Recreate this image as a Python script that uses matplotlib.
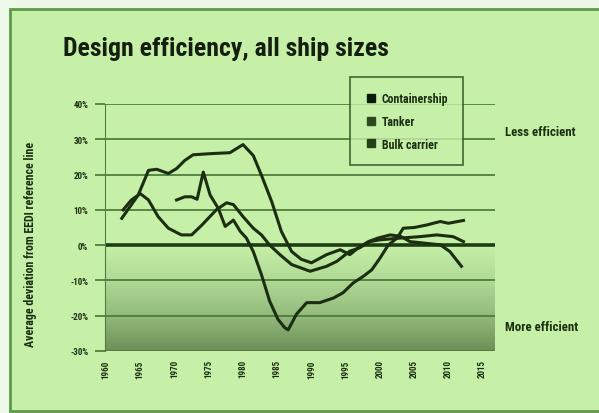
import numpy as np
import matplotlib
matplotlib.use("Agg")
import matplotlib.pyplot as plt
from matplotlib.lines import Line2D
from matplotlib.patches import Rectangle
from matplotlib.colors import LinearSegmentedColormap

# lecturas de la figura (año, % desviación)
years_cont = [1962.3, 1964.7, 1966.2, 1967.4, 1969.1, 1970.3, 1971.5, 1972.7, 1975.0,
              1978.1, 1980.0, 1981.5, 1982.7, 1984.2, 1985.6, 1987.1, 1988.5, 1990.0,
              1992.2, 1994.2, 1995.6, 1996.8, 1998.3, 1999.7, 2001.5, 2003.0, 2004.4,
              2006.8, 2008.8, 2010.2, 2011.9]
vals_cont = [7.6, 14.2, 21.2, 21.5, 20.3, 21.7, 24.0, 25.6, 25.9,
             26.2, 28.5, 25.4, 19.8, 12.3, 3.9, -1.8, -4.0, -5.0,
             -2.7, -1.3, -2.7, -0.8, 1.0, 2.0, 2.9, 2.5, 1.0,
             0.5, 0.1, -1.8, -6.0]

years_tank = [1962.5, 1963.7, 1965.0, 1966.2, 1967.6, 1969.1, 1971.0, 1972.5, 1974.0,
              1976.1, 1977.6, 1978.6, 1980.0, 1981.5, 1982.7, 1983.9, 1985.4, 1987.1,
              1989.8, 1992.2, 1993.7, 1995.6, 1997.0, 1998.5, 2000.0, 2002.9, 2005.8,
              2008.3, 2010.7, 2012.2]
vals_tank = [10.0, 12.8, 14.6, 12.8, 8.1, 4.8, 2.9, 2.9, 5.7,
             10.0, 12.0, 11.5, 8.1, 4.8, 2.9, 0.0, -2.7, -5.5,
             -7.4, -6.0, -4.6, -1.7, -0.8, 1.0, 1.5, 2.0, 2.4,
             2.9, 2.4, 1.0]

years_bulk = [1970.3, 1971.5, 1972.5, 1973.3, 1974.2, 1975.2, 1976.4, 1977.4, 1978.6,
              1979.6, 1980.5, 1981.5, 1982.7, 1983.9, 1985.1, 1986.1, 1986.6, 1987.8,
              1989.3, 1991.2, 1993.2, 1994.6, 1996.1, 1997.6, 1998.8, 2000.0, 2001.2,
              2002.5, 2003.4, 2005.0, 2006.8, 2008.8, 2010.0, 2012.2]
vals_bulk = [12.8, 13.7, 13.7, 13.0, 20.7, 14.2, 10.4, 5.3, 7.1,
             3.9, 2.0, -1.8, -8.4, -15.9, -21.0, -23.4, -24.0, -19.6,
             -16.3, -16.3, -15.0, -13.5, -10.7, -8.8, -7.0, -3.7, 0.0,
             2.0, 4.8, 5.0, 5.7, 6.7, 6.2, 7.0]

labels = ["Containership", "Tanker", "Bulk carrier"]
year_ticks = list(range(1960, 2016, 5))
pct_ticks = [-30, -20, -10, 0, 10, 20, 30, 40]

bg = "#c6f0a7"
dark = "#1b2e12"
grid = "#4f7d3c"
plt.rcParams["font.family"] = ["Roboto Condensed", "Roboto", "DejaVu Sans"]
plt.rcParams["font.weight"] = "bold"
plt.rcParams["axes.labelweight"] = "bold"

W, H = 599, 414
fig = plt.figure(figsize=(W / 100, H / 100), dpi=100, facecolor="#eef8e8")
# marco exterior
marco = Rectangle((10 / W, 2 / H), 1.0, 1 - 12 / H, transform=fig.transFigure,
                  facecolor=bg, edgecolor="#5e9a48", linewidth=2, zorder=-10)
fig.patches.append(marco)

ax = fig.add_axes([105 / W, 1 - 352 / H, 390 / W, 247 / H])
ax.set_zorder(1)
ax.set_facecolor("none")
ax.set_xlim(1959.85, 2016.8)
ax.set_ylim(-30, 40)

# sombreado degradado bajo 0 %
cmap = LinearSegmentedColormap.from_list("g", [bg, "#b0d996", "#93bb7c", "#6d8f58"])
grad = np.linspace(0, 1, 200).reshape(-1, 1)
ax.imshow(grad, cmap=cmap, extent=[1959.85, 2016.8, -30, 0], aspect="auto",
          origin="upper", zorder=0)

for v in pct_ticks:
    if v == 0:
        continue
    ax.axhline(v, color=grid, lw=1.3, zorder=1)
ax.axhline(0, color="#1f3d15", lw=2.6, zorder=2)

for s in ["top", "right", "bottom"]:
    ax.spines[s].set_visible(False)
ax.spines["left"].set_color(grid)
ax.spines["left"].set_linewidth(0.8)

ax.set_yticks(pct_ticks)
ax.set_yticklabels([f"{v}%" for v in pct_ticks], fontsize=6.5, color=dark)
ax.tick_params(axis="y", length=7, width=1.3, color=grid, pad=5)
ax.set_xticks(year_ticks)
ax.set_xticklabels([str(y) for y in year_ticks], rotation=90, fontsize=6.5, color=dark)
ax.tick_params(axis="x", length=0, pad=6)

ax.plot(years_cont, vals_cont, color=dark, lw=2.2, zorder=3, label=labels[0])
ax.plot(years_tank, vals_tank, color=dark, lw=2.2, zorder=3, label=labels[1])
ax.plot(years_bulk, vals_bulk, color=dark, lw=2.2, zorder=3, label=labels[2])

ax.set_ylabel("Average deviation from EEDI reference line", fontsize=8.6, color=dark)
ax.yaxis.set_label_coords(-68 / 390, 0.435)

handles = [Line2D([], [], marker="s", ls="none", ms=6, color=c)
           for c in ["#0d1a08", "#2e4a22", "#26401b"]]
leg = fig.legend(handles, labels, loc="upper left", bbox_to_anchor=(350 / W, 1 - 78 / H),
                 borderaxespad=0, frameon=True, fancybox=False, fontsize=8.6,
                 labelcolor=dark, handletextpad=0.4, borderpad=1.25, labelspacing=0.82,
                 handlelength=1.0)
leg.get_frame().set_facecolor(bg)
leg.get_frame().set_edgecolor("#2c4f20")
leg.get_frame().set_linewidth(1.3)
leg.set_zorder(5)

fig.text(63 / W, 1 - 56 / H, "Design efficiency, all ship sizes", fontsize=18.5,
         color="#151f10", va="baseline")
fig.text(505 / W, 1 - 133 / H, "Less efficient", fontsize=9.3, color=dark, va="center")
fig.text(505 / W, 1 - 328 / H, "More efficient", fontsize=9.3, color=dark, va="center")

fig.savefig("out.png", dpi=100, facecolor=fig.get_facecolor())
